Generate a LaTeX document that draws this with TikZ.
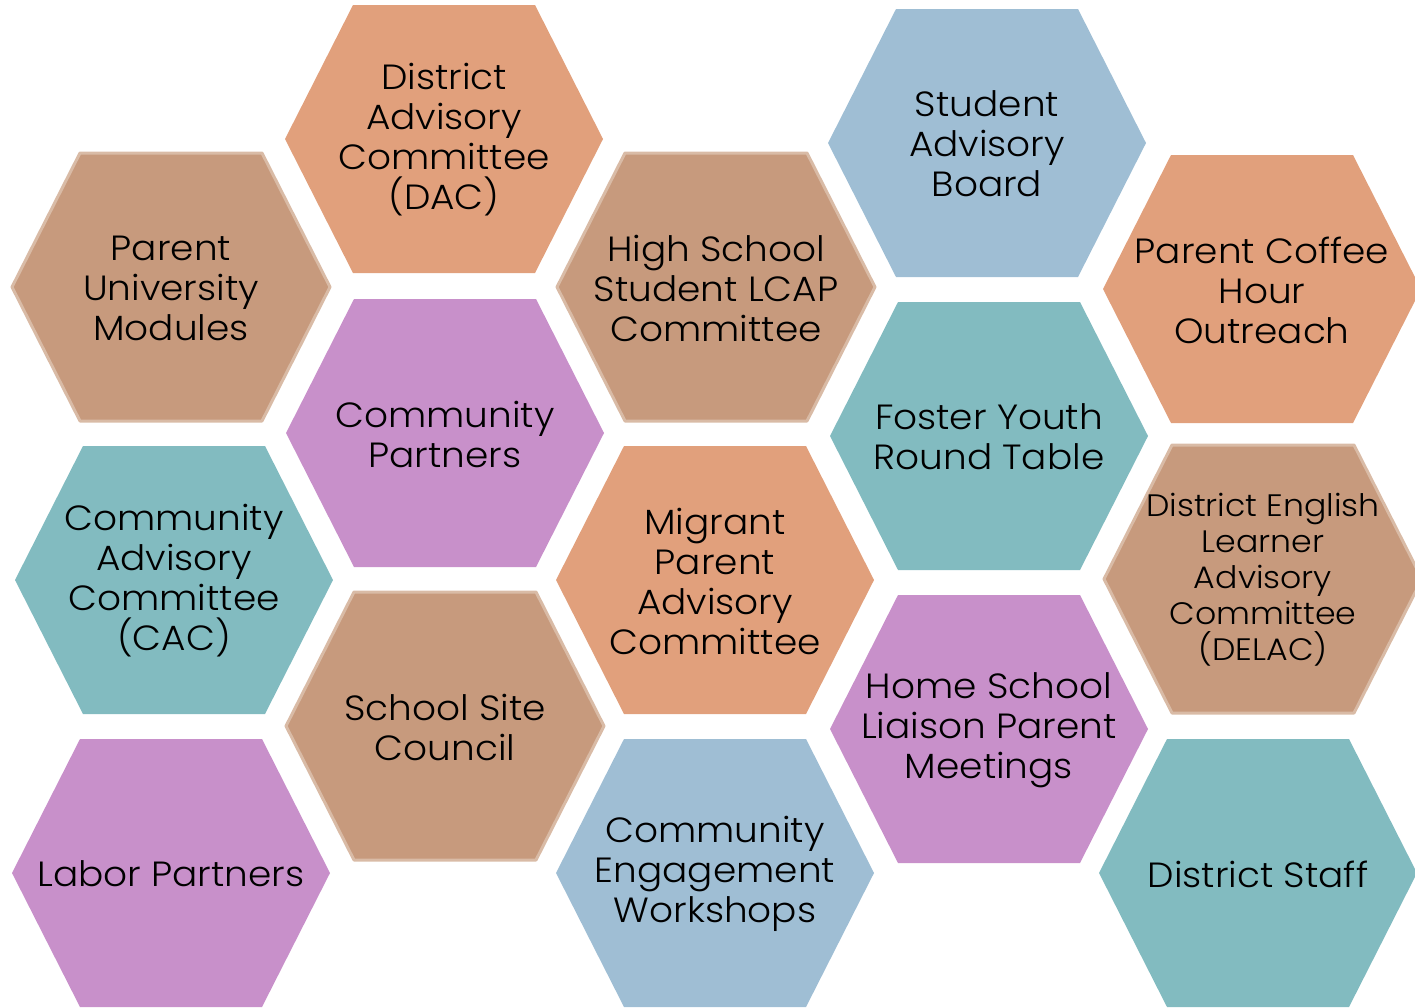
\documentclass[tikz,border=0pt]{standalone}
\usepackage{fontspec}
\setmainfont{Poppins Light}[FakeStretch=1.07]
\definecolor{hexorange}{RGB}{225,160,124}
\definecolor{hexbrown}{RGB}{199,154,125}
\definecolor{hexbrownline}{RGB}{217,187,166}
\definecolor{hexblue}{RGB}{159,190,212}
\definecolor{hexteal}{RGB}{130,187,192}
\definecolor{hexpurple}{RGB}{200,144,202}
\begin{document}
\begin{tikzpicture}[x=1pt,y=-1pt,
  orangehex/.style={fill=hexorange},
  brownhex/.style={fill=hexbrown,draw=hexbrownline,line width=3pt,line join=round},
  bluehex/.style={fill=hexblue},
  tealhex/.style={fill=hexteal},
  purplehex/.style={fill=hexpurple},
  lbl/.style={font=\fontsize{35}{40}\selectfont,align=center,text=black,inner sep=0pt},
  smalllbl/.style={font=\fontsize{31}{36}\selectfont,align=center,text=black,inner sep=0pt}]
\useasboundingbox (0,0) rectangle (1415,1007);
\clip (0,0) rectangle (1415,1007);
\newcommand\hexcell[6]{%
  \path[#3] (#1-159,#2) -- (#1-91,#2-134) -- (#1+91,#2-134) -- (#1+159,#2)
     -- (#1+91,#2+134) -- (#1-91,#2+134) -- cycle;
  \node[#6] (#4) at (#1,#2+1) {#5};}
\hexcell{171}{287}{brownhex}{pu}{Parent\\University\\Modules}{lbl}
\hexcell{444}{139}{orangehex}{dac}{District\\Advisory\\Committee\\(DAC)}{lbl}
\hexcell{445}{433}{purplehex}{cp}{Community\\Partners}{lbl}
\hexcell{174}{580}{tealhex}{cac}{Community\\Advisory\\Committee\\(CAC)}{lbl}
\hexcell{445}{726}{brownhex}{ssc}{School Site\\Council}{lbl}
\hexcell{171}{873}{purplehex}{lp}{Labor Partners}{lbl}
\hexcell{716}{287}{brownhex}{hs}{High School\\Student LCAP\\Committee}{lbl}
\hexcell{715}{580}{orangehex}{mp}{Migrant\\Parent\\Advisory\\Committee}{lbl}
\hexcell{715}{873}{bluehex}{cew}{Community\\Engagement\\Workshops}{lbl}
\hexcell{987}{143}{bluehex}{sab}{Student\\Advisory\\Board}{lbl}
\hexcell{989}{436}{tealhex}{fy}{Foster Youth\\Round Table}{lbl}
\hexcell{989}{729}{purplehex}{hsl}{Home School\\Liaison Parent\\Meetings}{lbl}
\hexcell{1262}{289}{orangehex}{pch}{Parent Coffee\\Hour\\Outreach}{lbl}
\hexcell{1263}{579}{brownhex}{delac}{District English\\Learner\\Advisory\\Committee\\(DELAC)}{smalllbl}
\hexcell{1258}{873}{tealhex}{ds}{District Staff}{lbl}
\end{tikzpicture}
\end{document}
